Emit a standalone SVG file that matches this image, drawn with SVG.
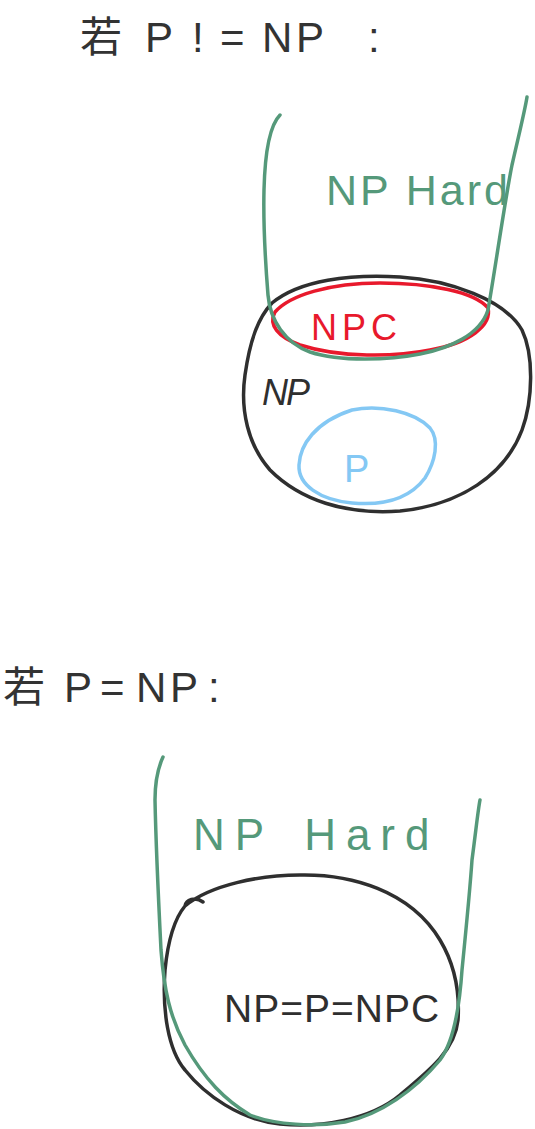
<svg xmlns="http://www.w3.org/2000/svg" width="535" height="1129" viewBox="0 0 535 1129">
<style>
.ink{fill:none;stroke-width:3.5;stroke-linecap:round;stroke-linejoin:round}
.blk{stroke:#2f2f2f}
.grn{stroke:#55997a}
.red{stroke:#e8192c}
.blu{stroke:#84c8f4}
.t{font-family:"Liberation Sans","Noto Sans CJK SC",sans-serif}
</style>
<rect width="535" height="1129" fill="#ffffff"/>

<g id="title-top">
<text class="t" y="52" font-size="42" fill="#333"><tspan x="80">若</tspan><tspan x="145">P</tspan><tspan x="192">!</tspan><tspan x="220">=</tspan><tspan x="262">N</tspan><tspan x="296">P</tspan><tspan x="368">:</tspan></text>
</g>

<g id="np-top">
<path class="ink blk" d="M272,303 C300,280 350,274 400,277 C450,280 505,300 522,330 C534,355 533,400 522,430 C505,475 460,505 400,511 C345,515 300,500 270,470 C248,445 240,410 245,375 C250,340 258,318 272,303 Z"/>
<text class="t" x="262" y="405" font-size="36" fill="#2f2f2f" font-style="italic" letter-spacing="-2">NP</text>
</g>

<g id="p-top">
<path class="ink blu" d="M352,410 C380,404 415,412 430,428 C440,440 435,462 425,478 C410,498 385,506 352,503 C320,500 298,485 299,465 C300,445 315,422 352,410 Z"/>
<text class="t" x="344" y="482" font-size="38" fill="#84c8f4">P</text>
</g>

<g id="npc-top">
<path class="ink red" d="M275,312 C290,295 330,283 380,283 C430,283 475,292 488,308 C492,325 470,343 430,350 C395,357 340,358 300,345 C278,337 268,325 275,312 Z"/>
<text class="t" x="311" y="340" font-size="36" fill="#e8192c" letter-spacing="5">NPC</text>
</g>

<g id="nphard-top">
<path class="ink grn" d="M280,115 C270,125 265,150 264,190 C263,230 266,270 268,295 C270,320 285,343 310,352 C340,362 390,360 420,354 C450,348 480,335 488,310 C495,270 505,200 512,165 C520,130 525,110 527,97"/>
<text class="t" x="326" y="205" font-size="43" fill="#55997a" letter-spacing="3">NP<tspan dx="14">Hard</tspan></text>
</g>

<g id="title-bottom">
<text class="t" y="702" font-size="42" fill="#333"><tspan x="3">若</tspan><tspan x="64">P</tspan><tspan x="100">=</tspan><tspan x="136">N</tspan><tspan x="170">P</tspan><tspan x="208">:</tspan></text>
</g>

<g id="np-bottom">
<path class="ink blk" d="M185,906 C186,900 195,896 203,902 M185,906 C210,885 260,875 300,875 C350,874 410,890 440,940 C455,965 460,990 458,1020 C455,1050 430,1070 400,1095 C370,1120 320,1128 280,1124 C240,1120 205,1095 185,1070 C168,1050 162,1010 165,970 C168,940 175,918 185,906 Z"/>
<text class="t" x="224" y="1022" font-size="39" fill="#2f2f2f" letter-spacing="1">NP=P=NPC</text>
</g>

<g id="nphard-bottom">
<path class="ink grn" d="M163,757 C157,770 155,785 155,800 C156,850 159,910 161,950 C164,990 170,1017 185,1045 C205,1080 225,1100 250,1115 C275,1125 315,1127 345,1122 C380,1115 415,1090 440,1060 C455,1040 460,1000 462,970 C466,930 470,890 472,860 C476,830 478,810 480,800"/>
<text class="t" x="193" y="850" font-size="44" fill="#55997a" letter-spacing="10">NP<tspan dx="30">Hard</tspan></text>
</g>
</svg>
